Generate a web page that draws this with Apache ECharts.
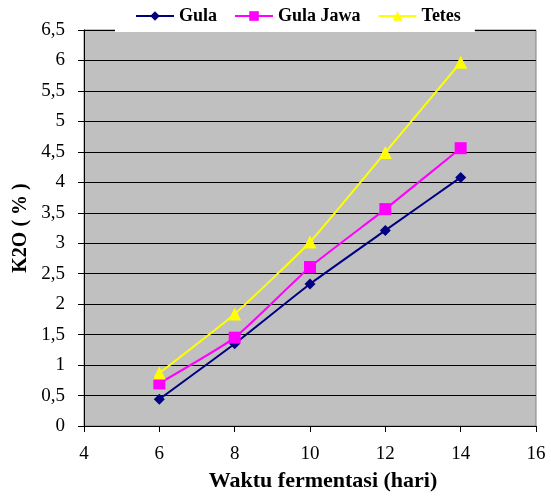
<!DOCTYPE html>
<html><head><meta charset="utf-8">
<script src="https://cdn.jsdelivr.net/npm/echarts@6/dist/echarts.min.js"></script>
<style>html,body{margin:0;padding:0;background:#fff}#c{width:551px;height:496px}</style>
</head><body><div id="c"></div>
<script>
const days = [6, 8, 10, 12, 14];
const gula = [0.44, 1.35, 2.33, 3.21, 4.08];
const gulaJawa = [0.70, 1.45, 2.61, 3.56, 4.56];
const tetes = [0.87, 1.84, 3.02, 4.49, 5.97];
const seriesNames = ['Gula', 'Gula Jawa', 'Tetes'];
const xName = 'Waktu fermentasi (hari)';
const yName = 'K2O ( % )';

const font = '"Liberation Serif", "Times New Roman", serif';
const chart = echarts.init(document.getElementById('c'));
function pts(v){ return days.map((d,i)=>[d, v[i]]); }
chart.setOption({
  animation: false,
  textStyle: { fontFamily: font },
  grid: { left: 84, right: 15, top: 30, bottom: 70, outerBoundsMode: 'none', containLabel: false,
    show: true, backgroundColor: '#C0C0C0', borderColor: '#808080', borderWidth: 1 },
  legend: {
    top: 0, left: 115,
    padding: [7, 14, 7, 20],
    backgroundColor: '#ffffff',
    itemWidth: 38, itemHeight: 12, itemGap: 17,
    textStyle: { fontFamily: font, fontWeight: 'bold', fontSize: 18, color: '#000' },
    data: seriesNames
  },
  xAxis: {
    type: 'value', min: 4, max: 16, interval: 2,
    axisLine: { show: true, onZero: false, lineStyle: { color: '#000' } },
    axisTick: { show: true, length: 6, lineStyle: { color: '#000' } },
    splitLine: { show: false },
    axisLabel: { fontFamily: font, fontSize: 19, color: '#000', margin: 19 },
    name: xName, nameLocation: 'middle', nameGap: 44,
    nameTextStyle: { fontFamily: font, fontWeight: 'bold', fontSize: 22, color: '#000', padding: [0, 0, 0, 26] }
  },
  yAxis: {
    type: 'value', min: 0, max: 6.5, interval: 0.5,
    axisLine: { show: true, lineStyle: { color: '#000' } },
    axisTick: { show: true, length: 6, lineStyle: { color: '#000' } },
    splitLine: { show: true, lineStyle: { color: '#000', width: 1 } },
    axisLabel: { fontFamily: font, fontSize: 19, color: '#000', margin: 19,
      formatter: v => String(v).replace('.', ',') },
    name: yName, nameLocation: 'middle', nameGap: 51, nameRotate: 90,
    nameTextStyle: { fontFamily: font, fontWeight: 'bold', fontSize: 20, color: '#000' }
  },
  series: [
    { name: seriesNames[0], type: 'line', data: pts(gula), smooth: 0.15,
      symbol: 'diamond', symbolSize: 11,
      itemStyle: { color: '#000080' }, lineStyle: { color: '#000080', width: 2 } },
    { name: seriesNames[1], type: 'line', data: pts(gulaJawa), smooth: 0.15,
      symbol: 'rect', symbolSize: 12,
      itemStyle: { color: '#FF00FF' }, lineStyle: { color: '#FF00FF', width: 2 } },
    { name: seriesNames[2], type: 'line', data: pts(tetes), smooth: 0.15,
      symbol: 'triangle', symbolSize: 13,
      itemStyle: { color: '#FFFF00' }, lineStyle: { color: '#FFFF00', width: 2 } }
  ]
});
</script></body></html>
